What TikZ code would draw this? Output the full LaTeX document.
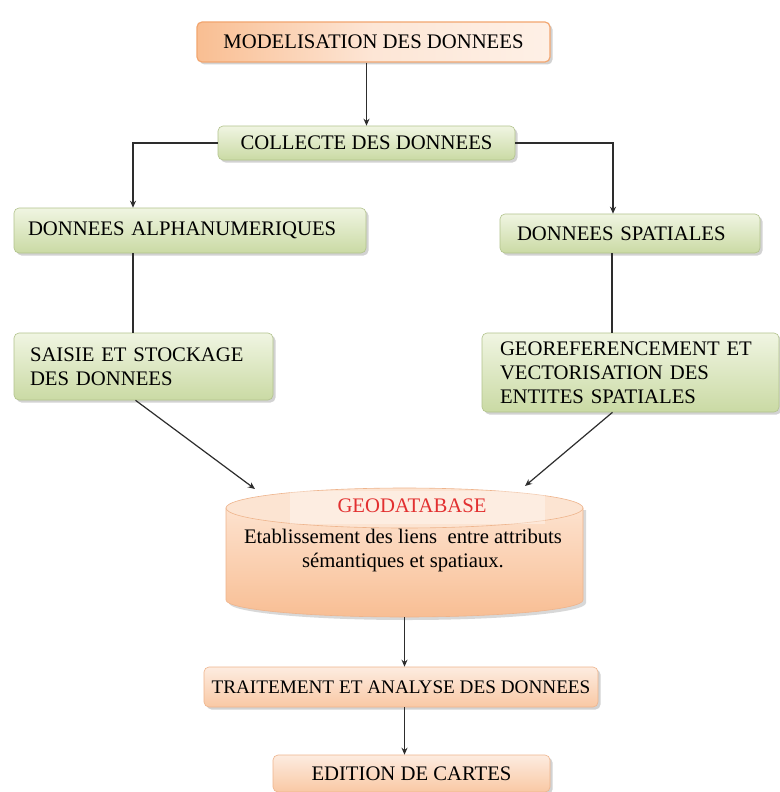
\documentclass[tikz,border=0pt]{standalone}
\usepackage{fontspec}
\setmainfont{Liberation Serif}
\usetikzlibrary{shadows,arrows.meta,calc}
\definecolor{gtop}{RGB}{240,245,226}
\definecolor{gbot}{RGB}{202,218,164}
\definecolor{gline}{RGB}{178,195,140}
\definecolor{otop}{RGB}{253,236,224}
\definecolor{obot}{RGB}{249,200,164}
\definecolor{oline}{RGB}{238,180,140}
\definecolor{oleft}{RGB}{249,190,146}
\definecolor{omid}{RGB}{253,230,214}
\definecolor{oright}{RGB}{254,240,230}
\definecolor{modline}{RGB}{242,166,112}
\definecolor{cylbot}{RGB}{248,190,148}
\definecolor{cylmid}{RGB}{253,226,206}
\definecolor{cyltop}{RGB}{252,228,210}
\definecolor{geored}{RGB}{226,48,48}
\definecolor{conn}{RGB}{45,45,45}
\begin{document}
\begin{tikzpicture}[x=1pt,y=-1pt,
  box/.style={rounded corners=5pt, line width=0.6pt, inner sep=0pt,
    font=\fontsize{20.7}{24}\selectfont,
    drop shadow={shadow xshift=2.5pt, shadow yshift=-2.5pt, opacity=0.35, fill=gray}},
  gbox/.style={box, top color=gtop, bottom color=gbot, draw=gline},
  obox/.style={box, top color=otop, bottom color=obot, draw=oline},
  ln/.style={draw=conn, line width=1.2pt},
  arr/.style={ln, -{Stealth[length=7pt,width=6pt]}},
  txt/.style={font=\fontsize{20.7}{24}\selectfont, inner sep=0pt}]
\useasboundingbox (0,0) rectangle (779,792);
\fill[white] (0,0) rectangle (779,792);

% boxes
\node[box, left color=oleft, right color=oright, middle color=omid, draw=modline, line width=1.2pt, minimum width=353pt, minimum height=40pt] (mod) at (373.5,42) {MODELISATION DES DONNEES};
\node[gbox, minimum width=297pt, minimum height=34pt] (col) at (366.5,143) {COLLECTE DES DONNEES};
\node[gbox, minimum width=352pt, minimum height=45pt, text width=324pt, align=left, inner xsep=14pt] (alpha) at (190,230.5) {DONNEES ALPHANUMERIQUES};
\node[gbox, minimum width=260pt, minimum height=39pt, text width=226pt, align=left, inner xsep=17pt] (spat) at (630,233.5) {DONNEES SPATIALES};
\node[gbox, minimum width=259pt, minimum height=67pt, text width=227pt, align=left, inner xsep=16pt] (saisie) at (143.5,366.5) {SAISIE ET STOCKAGE\\DES DONNEES};
\node[gbox, minimum width=297pt, minimum height=79pt, text width=261pt, align=left, inner xsep=18pt] (georef) at (630.5,372.5) {GEOREFERENCEMENT ET\\VECTORISATION DES\\ENTITES SPATIALES};
\node[obox, minimum width=394pt, minimum height=40pt, font=\fontsize{19.2}{23}\selectfont] (trait) at (401,687) {TRAITEMENT ET ANALYSE DES DONNEES};
\node[obox, minimum width=277pt, minimum height=37pt] (edition) at (411.5,773.5) {EDITION DE CARTES};

% cylinder (geodatabase)
\fill[gray, opacity=0.3] (229,510) -- (229,603) arc[start angle=180,end angle=360,x radius=178.5pt,y radius=17pt] -- (586,510) -- cycle;
\path[top color=cylmid, bottom color=cylbot, draw=oline, line width=0.6pt]
  (226,508) -- (226,600) arc[start angle=180,end angle=360,x radius=178.5pt,y radius=17pt] -- (583,508) -- cycle;
\path[fill=cyltop, draw=oline, line width=0.6pt] (404.5,508) ellipse [x radius=178.5pt, y radius=20pt];
\fill[white, opacity=0.35] (290,491) rectangle (545,524);
\coordinate (gl) at (255,489);
\coordinate (gr) at (525,486);
\coordinate (gb) at (404.5,617);
\node[txt, text=geored] (geot) at (412,506) {GEODATABASE};
\node[txt, align=center] (geob) at (403,551) {Etablissement des liens\ \ entre attributs\\sémantiques et spatiaux.};

% connectors
\draw[arr] (mod.south -| col.north) -- (col.north);
\draw[arr] (col.west) -| ([xshift=-57pt]alpha.north);
\draw[arr] (col.east) -| ([xshift=-17pt]spat.north);
\draw[ln] ([xshift=-57pt]alpha.south) -- ([xshift=-57pt]alpha.south |- saisie.north);
\draw[ln] ([xshift=-18pt]spat.south) -- ([xshift=-18pt]spat.south |- georef.north);
\draw[arr] ([xshift=-8pt]saisie.south) -- (gl);
\draw[arr] ([xshift=-18pt]georef.south) -- (gr);
\draw[arr] (gb) -- (gb |- trait.north);
\draw[arr] (gb |- trait.south) -- (gb |- edition.north);
\end{tikzpicture}
\end{document}
